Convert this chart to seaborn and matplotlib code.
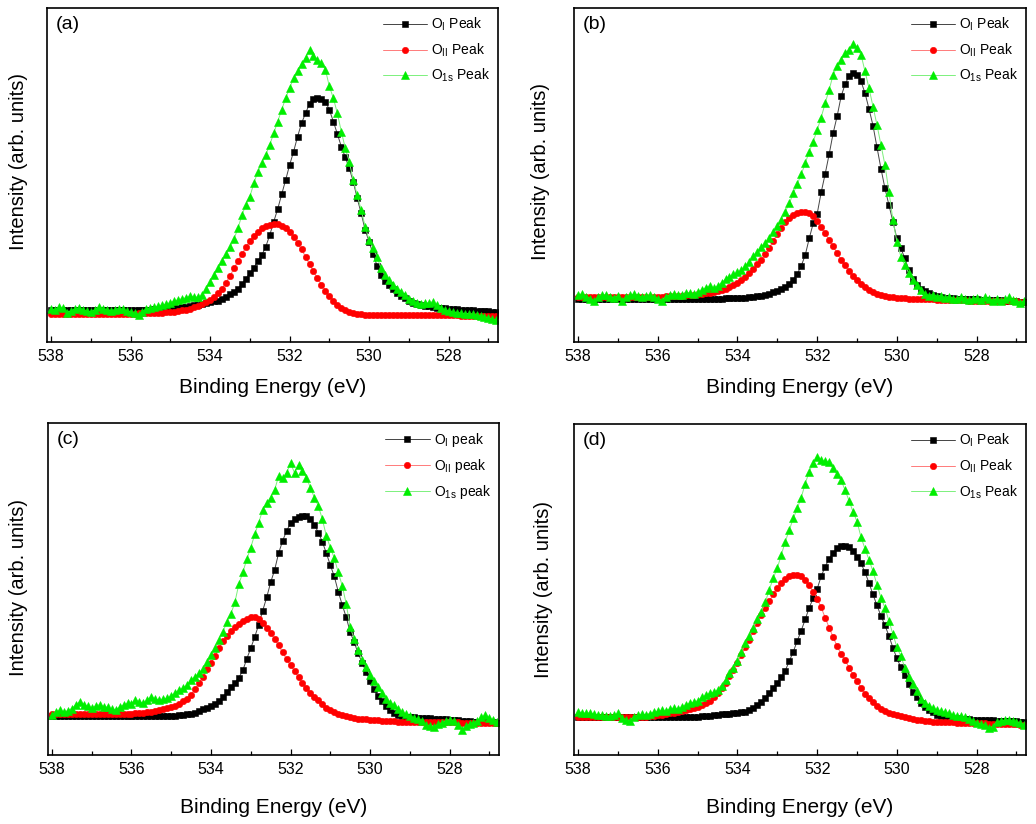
import matplotlib
matplotlib.use("Agg")
import matplotlib.pyplot as plt
from matplotlib.ticker import MultipleLocator
import seaborn as sns

# binding energy grid (eV), 0.1 eV steps as in the measured spectra
energy = [538.0, 537.9, 537.8, 537.7, 537.6, 537.5, 537.4, 537.3, 537.2, 537.1,
          537.0, 536.9, 536.8, 536.7, 536.6, 536.5, 536.4, 536.3, 536.2, 536.1,
          536.0, 535.9, 535.8, 535.7, 535.6, 535.5, 535.4, 535.3, 535.2, 535.1,
          535.0, 534.9, 534.8, 534.7, 534.6, 534.5, 534.4, 534.3, 534.2, 534.1,
          534.0, 533.9, 533.8, 533.7, 533.6, 533.5, 533.4, 533.3, 533.2, 533.1,
          533.0, 532.9, 532.8, 532.7, 532.6, 532.5, 532.4, 532.3, 532.2, 532.1,
          532.0, 531.9, 531.8, 531.7, 531.6, 531.5, 531.4, 531.3, 531.2, 531.1,
          531.0, 530.9, 530.8, 530.7, 530.6, 530.5, 530.4, 530.3, 530.2, 530.1,
          530.0, 529.9, 529.8, 529.7, 529.6, 529.5, 529.4, 529.3, 529.2, 529.1,
          529.0, 528.9, 528.8, 528.7, 528.6, 528.5, 528.4, 528.3, 528.2, 528.1,
          528.0, 527.9, 527.8, 527.7, 527.6, 527.5, 527.4, 527.3, 527.2, 527.1,
          527.0, 526.9, 526.8]

# panel (a)
a_oi = [9.7, 9.7, 9.7, 9.7, 9.7, 9.7, 9.7, 9.7, 9.7, 9.7,
        9.7, 9.7, 9.7, 9.7, 9.7, 9.7, 9.7, 9.7, 9.7, 9.7,
        9.7, 9.7, 9.7, 9.7, 9.7, 9.7, 9.8, 9.8, 9.9, 9.9,
        10.0, 10.1, 10.3, 10.4, 10.6, 10.8, 11.0, 11.2, 11.5, 11.7,
        12.0, 12.2, 12.4, 12.8, 13.6, 14.4, 15.1, 16.0, 17.3, 19.0,
        20.5, 22.2, 24.2, 26.0, 28.5, 32.0, 36.0, 39.8, 44.2, 48.5,
        53.0, 57.0, 61.5, 65.5, 68.5, 71.3, 72.6, 73.0, 72.8, 72.0,
        69.5, 66.0, 62.3, 58.5, 55.3, 52.0, 48.0, 43.0, 38.5, 33.5,
        30.0, 26.2, 22.8, 20.0, 18.3, 17.0, 15.8, 14.8, 13.9, 13.1,
        12.4, 11.8, 11.4, 11.1, 10.9, 10.7, 10.5, 10.3, 10.2, 10.1,
        10.0, 9.9, 9.8, 9.7, 9.7, 9.6, 9.5, 9.4, 9.3, 9.2,
        9.2, 9.1, 9.0]
a_oii = [8.5, 8.5, 8.5, 8.5, 8.5, 8.5, 8.5, 8.5, 8.5, 8.5,
         8.5, 8.5, 8.5, 8.5, 8.5, 8.5, 8.5, 8.5, 8.5, 8.5,
         8.5, 8.5, 8.6, 8.6, 8.6, 8.7, 8.7, 8.8, 8.8, 8.9,
         9.0, 9.1, 9.3, 9.5, 9.7, 10.0, 10.4, 10.9, 11.4, 12.0,
         12.7, 13.5, 14.6, 16.0, 17.8, 19.8, 22.0, 24.2, 26.3, 28.3,
         30.2, 31.8, 33.0, 34.0, 34.7, 35.1, 35.3, 35.2, 34.8, 34.1,
         33.0, 31.5, 29.7, 27.7, 25.5, 23.3, 21.1, 19.1, 17.2, 15.4,
         13.8, 12.4, 11.2, 10.3, 9.6, 9.1, 8.8, 8.5, 8.3, 8.2,
         8.1, 8.1, 8.0, 8.0, 8.0, 8.0, 8.0, 8.0, 8.0, 8.0,
         8.0, 8.0, 8.0, 8.0, 8.0, 8.0, 8.0, 8.0, 8.0, 8.0,
         8.0, 8.0, 8.0, 7.9, 7.9, 7.9, 7.9, 7.9, 7.9, 7.9,
         7.9, 7.9, 7.9]
a_o1s = [10.0, 9.5, 10.5, 10.2, 8.8, 9.3, 9.8, 10.2, 9.6, 9.2,
         9.0, 9.6, 10.5, 10.0, 9.7, 9.4, 9.6, 10.0, 9.8, 9.3,
         9.0, 8.6, 8.2, 9.0, 9.9, 10.2, 10.4, 10.8, 11.0, 11.4,
         11.8, 12.3, 12.6, 13.0, 13.2, 13.8, 13.5, 13.4, 14.0, 15.8,
         18.0, 20.0, 22.2, 24.3, 26.3, 28.3, 30.8, 34.0, 38.0, 41.0,
         43.5, 47.5, 51.0, 53.5, 56.0, 59.0, 62.5, 66.0, 69.5, 73.0,
         76.0, 79.0, 81.0, 83.2, 85.0, 87.4, 85.5, 84.3, 83.5, 81.5,
         76.5, 73.0, 68.5, 63.0, 58.0, 54.0, 48.5, 44.0, 39.5, 34.5,
         30.5, 28.0, 25.5, 22.0, 20.0, 18.5, 17.0, 16.0, 15.0, 14.0,
         13.0, 12.2, 11.8, 11.5, 11.6, 11.8, 12.0, 11.0, 10.2, 9.6,
         9.2, 9.0, 8.8, 8.6, 8.5, 8.4, 8.3, 8.0, 7.8, 7.5,
         7.2, 6.8, 6.5]

# panel (b)
b_oi = [13.0, 13.0, 13.0, 13.0, 13.0, 13.0, 13.0, 13.0, 13.0, 13.0,
        13.0, 13.0, 13.0, 13.0, 13.0, 13.0, 13.0, 13.0, 13.0, 13.0,
        13.0, 13.0, 13.0, 13.0, 13.0, 13.0, 13.0, 13.0, 13.0, 13.0,
        13.0, 13.0, 13.0, 13.0, 13.0, 13.0, 13.0, 13.1, 13.1, 13.1,
        13.2, 13.2, 13.3, 13.4, 13.5, 13.7, 13.9, 14.1, 14.4, 14.9,
        15.4, 16.0, 16.6, 17.4, 18.7, 20.4, 22.8, 26.0, 31.0, 35.5,
        38.4, 44.8, 50.3, 56.2, 62.5, 67.6, 73.5, 77.2, 79.6, 80.5,
        80.0, 78.0, 74.5, 69.8, 64.8, 58.3, 51.9, 46.0, 41.0, 36.0,
        31.0, 28.0, 25.0, 21.5, 19.0, 17.0, 16.0, 15.3, 14.6, 14.1,
        13.7, 13.5, 13.3, 13.2, 13.1, 13.0, 13.0, 12.9, 12.9, 12.8,
        12.8, 12.7, 12.7, 12.6, 12.6, 12.5, 12.5, 12.4, 12.4, 12.3,
        12.2, 12.1, 12.0]
b_oii = [13.6, 13.6, 13.6, 13.6, 13.6, 13.6, 13.6, 13.6, 13.6, 13.6,
         13.6, 13.6, 13.6, 13.6, 13.6, 13.6, 13.6, 13.6, 13.6, 13.6,
         13.6, 13.6, 13.7, 13.7, 13.8, 13.9, 13.9, 14.0, 14.1, 14.2,
         14.3, 14.4, 14.6, 14.8, 15.0, 15.3, 15.6, 16.0, 16.5, 17.1,
         17.7, 18.5, 19.5, 20.6, 21.9, 23.2, 24.6, 26.3, 28.2, 30.3,
         32.3, 34.2, 35.8, 37.0, 38.0, 38.7, 39.0, 38.9, 38.5, 37.6,
         36.2, 34.3, 32.5, 30.6, 28.6, 26.6, 24.6, 22.9, 21.3, 19.9,
         18.6, 17.5, 16.5, 15.7, 15.0, 14.5, 14.1, 13.8, 13.6, 13.4,
         13.3, 13.2, 13.1, 13.0, 13.0, 12.9, 12.9, 12.8, 12.8, 12.8,
         12.7, 12.7, 12.7, 12.6, 12.6, 12.5, 12.5, 12.5, 12.4, 12.4,
         12.4, 12.4, 12.3, 12.3, 12.3, 12.3, 12.2, 12.2, 12.2, 12.2,
         12.2, 12.1, 12.1]
b_o1s = [14.0, 14.5, 13.5, 13.0, 12.2, 13.4, 14.2, 14.0, 13.6, 13.2,
         13.8, 12.2, 13.5, 14.0, 14.3, 13.8, 13.4, 13.9, 14.2, 13.5,
         13.0, 12.4, 13.6, 14.0, 14.5, 14.2, 14.0, 14.6, 14.8, 14.5,
         15.0, 15.6, 16.2, 16.8, 16.2, 16.8, 17.8, 18.8, 19.5, 20.2,
         20.8, 21.5, 22.6, 24.0, 25.8, 27.0, 28.3, 29.6, 31.0, 33.0,
         34.8, 36.5, 39.0, 41.5, 44.5, 47.3, 50.2, 53.5, 57.0, 60.0,
         63.5, 67.2, 71.5, 75.5, 80.0, 82.5, 84.5, 86.5, 87.5, 89.3,
         88.0, 86.0, 81.0, 76.0, 70.5, 65.0, 59.0, 53.0, 45.0, 36.5,
         30.0, 25.5, 23.0, 20.5, 18.5, 17.0, 15.6, 14.5, 13.8, 14.2,
         13.6, 13.9, 13.2, 13.6, 13.0, 12.8, 13.4, 13.0, 12.5, 12.9,
         13.2, 12.6, 13.4, 12.8, 12.4, 13.0, 12.2, 12.8, 13.5, 12.6,
         12.2, 11.8, 12.3]

# panel (c)
c_oi = [11.8, 11.8, 11.8, 11.8, 11.8, 11.8, 11.8, 11.8, 11.8, 11.8,
        11.8, 11.8, 11.8, 11.8, 11.8, 11.8, 11.8, 11.8, 11.8, 11.8,
        11.8, 11.8, 11.8, 11.8, 11.8, 11.8, 11.8, 11.8, 11.8, 11.8,
        11.8, 11.9, 12.0, 12.1, 12.3, 12.5, 12.8, 13.3, 13.8, 14.3,
        14.9, 15.5, 16.3, 17.4, 18.9, 20.5, 21.8, 23.3, 25.5, 29.0,
        32.2, 35.6, 39.3, 43.5, 47.5, 52.0, 55.8, 60.8, 64.5, 67.5,
        69.8, 71.2, 71.8, 72.1, 71.9, 71.2, 69.3, 67.0, 64.2, 60.8,
        57.2, 53.8, 49.2, 45.2, 41.5, 37.0, 34.0, 30.6, 27.8, 25.0,
        22.4, 19.9, 17.9, 16.2, 14.8, 13.6, 12.8, 12.2, 11.8, 11.6,
        11.5, 11.4, 11.3, 11.2, 11.2, 11.1, 11.0, 11.0, 10.9, 10.8,
        10.6, 10.5, 10.5, 10.4, 10.3, 10.2, 10.1, 10.0, 10.0, 9.9,
        9.8, 9.8, 9.7]
c_oii = [12.5, 12.5, 12.5, 12.5, 12.5, 12.5, 12.5, 12.5, 12.5, 12.5,
         12.5, 12.5, 12.5, 12.5, 12.5, 12.5, 12.5, 12.5, 12.5, 12.5,
         12.5, 12.6, 12.7, 12.8, 12.9, 13.1, 13.3, 13.5, 13.8, 14.1,
         14.4, 14.9, 15.5, 16.2, 17.0, 18.2, 19.8, 21.6, 23.6, 25.8,
         27.8, 29.7, 32.3, 34.2, 35.8, 37.3, 38.6, 39.6, 40.4, 41.0,
         41.5, 41.6, 41.0, 39.8, 38.3, 36.7, 35.0, 33.0, 30.9, 28.9,
         27.0, 25.4, 23.4, 21.7, 20.3, 18.8, 17.6, 16.5, 15.3, 14.3,
         13.5, 12.9, 12.5, 12.1, 11.8, 11.5, 11.2, 11.0, 10.9, 10.8,
         10.7, 10.6, 10.5, 10.4, 10.3, 10.2, 10.2, 10.1, 10.1, 10.0,
         10.0, 10.0, 10.0, 9.9, 9.9, 9.9, 9.9, 9.9, 9.8, 9.8,
         9.8, 9.8, 9.8, 9.7, 9.7, 9.7, 9.7, 9.7, 9.6, 9.6,
         9.6, 9.6, 9.6]
c_o1s = [12.0, 13.1, 13.6, 13.0, 13.4, 14.0, 15.2, 16.1, 15.2, 14.8,
         14.2, 14.8, 15.2, 14.6, 14.4, 13.9, 13.6, 14.4, 15.1, 15.6,
         15.4, 16.6, 16.0, 15.6, 16.6, 17.6, 16.8, 16.6, 16.9, 17.1,
         17.8, 18.6, 19.6, 20.2, 21.0, 22.6, 23.6, 24.6, 26.0, 28.0,
         30.0, 32.2, 34.5, 37.2, 40.0, 42.5, 46.0, 51.5, 55.0, 59.0,
         62.5, 66.5, 70.0, 73.9, 76.0, 77.5, 79.9, 84.0, 83.5, 85.0,
         87.9, 85.0, 87.4, 85.5, 83.5, 80.5, 77.5, 75.0, 71.0, 66.0,
         62.5, 59.3, 55.0, 51.0, 45.5, 38.5, 35.0, 31.5, 28.5, 26.6,
         24.0, 22.3, 20.6, 18.6, 17.0, 15.8, 15.0, 14.0, 12.9, 12.4,
         11.8, 11.1, 10.8, 10.2, 9.1, 8.6, 8.5, 9.2, 9.7, 10.3,
         10.6, 10.2, 9.0, 7.6, 8.6, 9.2, 9.6, 10.2, 11.4, 12.0,
         11.2, 10.5, 10.1]

# panel (d)
d_oi = [11.6, 11.6, 11.6, 11.6, 11.6, 11.6, 11.6, 11.6, 11.6, 11.6,
        11.6, 11.6, 11.6, 11.6, 11.6, 11.6, 11.6, 11.6, 11.6, 11.6,
        11.6, 11.6, 11.6, 11.6, 11.6, 11.6, 11.6, 11.6, 11.6, 11.6,
        11.6, 11.7, 11.8, 11.9, 12.0, 12.1, 12.3, 12.4, 12.5, 12.6,
        12.7, 12.9, 13.1, 13.6, 14.3, 15.2, 16.1, 17.3, 18.7, 20.2,
        21.9, 23.5, 25.5, 28.4, 31.2, 34.5, 37.6, 41.0, 44.5, 47.4,
        50.2, 54.0, 56.9, 59.3, 61.0, 62.4, 63.1, 63.2, 62.8, 61.7,
        59.9, 57.9, 55.2, 52.0, 48.5, 45.2, 42.0, 39.2, 36.0, 32.4,
        29.2, 26.5, 24.2, 21.5, 19.0, 17.4, 15.8, 14.6, 13.6, 12.9,
        12.1, 11.9, 11.6, 11.5, 11.3, 11.2, 11.0, 10.9, 10.8, 10.7,
        10.6, 10.6, 10.5, 10.5, 10.5, 10.4, 10.4, 10.3, 10.3, 10.2,
        10.2, 10.1, 10.1]
d_oii = [11.6, 11.6, 11.6, 11.6, 11.6, 11.6, 11.6, 11.6, 11.6, 11.6,
         11.6, 11.6, 11.6, 11.6, 11.6, 11.6, 11.6, 11.6, 11.7, 11.8,
         12.0, 12.2, 12.4, 12.6, 12.8, 13.0, 13.3, 13.6, 13.9, 14.2,
         14.6, 15.1, 15.7, 16.4, 17.5, 18.8, 20.2, 21.9, 23.8, 25.8,
         27.9, 30.3, 32.6, 34.9, 37.4, 39.9, 42.4, 44.5, 46.5, 48.6,
         50.5, 52.0, 53.2, 54.0, 54.4, 54.5, 54.0, 53.0, 51.3, 49.3,
         47.2, 44.6, 41.5, 38.5, 35.6, 32.9, 30.5, 28.7, 26.4, 24.3,
         22.3, 20.3, 18.5, 17.2, 16.0, 14.8, 13.9, 13.2, 12.7, 12.3,
         12.0, 11.7, 11.5, 11.2, 10.9, 10.7, 10.5, 10.4, 10.2, 10.1,
         10.0, 10.0, 9.9, 9.9, 9.9, 9.8, 9.8, 9.8, 9.7, 9.7,
         9.6, 9.6, 9.6, 9.5, 9.5, 9.5, 9.4, 9.4, 9.4, 9.3,
         9.3, 9.2, 9.1]
d_o1s = [13.0, 12.8, 12.6, 12.8, 12.3, 12.1, 12.0, 11.8, 11.7, 12.2,
         12.6, 11.2, 10.6, 10.4, 11.6, 12.1, 12.3, 12.1, 12.5, 13.0,
         13.2, 13.6, 13.4, 13.9, 14.2, 14.0, 14.6, 15.2, 15.6, 15.9,
         16.4, 17.4, 18.0, 18.6, 18.9, 19.5, 21.0, 22.7, 24.8, 26.2,
         28.5, 31.0, 33.7, 36.0, 38.5, 41.0, 43.3, 46.3, 50.0, 53.5,
         56.5, 60.5, 64.5, 68.0, 71.5, 74.5, 77.8, 82.0, 85.6, 88.3,
         90.1, 89.0, 88.7, 88.5, 86.6, 84.8, 83.0, 80.0, 76.8, 73.5,
         70.5, 65.8, 62.3, 59.0, 55.5, 51.5, 47.5, 44.5, 40.5, 36.5,
         32.6, 29.8, 26.4, 23.5, 21.5, 19.4, 16.8, 15.8, 14.9, 14.2,
         13.6, 13.3, 13.1, 12.6, 12.1, 11.9, 11.7, 11.4, 10.8, 10.2,
         9.8, 9.4, 9.0, 8.3, 8.5, 10.0, 10.3, 10.5, 10.6, 10.2,
         10.0, 9.6, 9.2]

panel_tags = ["(a)", "(b)", "(c)", "(d)"]
peak_word = ["Peak", "Peak", "peak", "Peak"]
spectra = [(a_oi, a_oii, a_o1s), (b_oi, b_oii, b_o1s),
           (c_oi, c_oii, c_o1s), (d_oi, d_oii, d_o1s)]

sns.set_style("white", {"axes.edgecolor": "black", "text.color": "black",
                        "axes.labelcolor": "black", "xtick.color": "black"})
plt.rcParams["font.family"] = ["Liberation Sans", "DejaVu Sans"]
plt.rcParams["mathtext.default"] = "regular"

fig = plt.figure(figsize=(10.36, 8.24), dpi=100)
boxes = [[0.0454, 0.585, 0.4353, 0.4053],
         [0.5541, 0.585, 0.4363, 0.4053],
         [0.0463, 0.0837, 0.4353, 0.4029],
         [0.5541, 0.0837, 0.4363, 0.4017]]
# y-label spot (axes fraction) and x-label pad for each panel
ylab_xy = [(-0.042, 0.539), (-0.053, 0.509), (-0.044, 0.506), (-0.046, 0.50)]
xlab_pad = [10, 10, 15, 15]

# line colour, marker, marker size, marker colour, label start
styles = [("#444444", "s", 4.0, "black", "O$_{I}$ "),
          ("#ff7a7a", "o", 4.6, "#ff0000", "O$_{II}$ "),
          ("#7cf07c", "^", 5.2, "#00ee00", "O$_{1s}$ ")]

for k in range(4):
    ax = fig.add_axes(boxes[k])
    for vals, (lc, mk, ms, mc, lab) in zip(spectra[k], styles):
        sns.lineplot(x=energy, y=vals, ax=ax, color=lc, lw=0.7, marker=mk,
                     markersize=ms, markerfacecolor=mc, markeredgecolor=mc,
                     markeredgewidth=0.4, sort=False,
                     label=lab + peak_word[k])
    ax.set_xlim(538.1, 526.76)
    ax.set_ylim(0, 100)
    ax.set_yticks([])
    ax.xaxis.set_major_locator(MultipleLocator(2))
    ax.xaxis.set_minor_locator(MultipleLocator(1))
    ax.tick_params(axis="x", which="both", direction="in", bottom=True,
                   top=False, labelsize=11.5, pad=5)
    ax.tick_params(axis="x", which="major", length=4.5, width=0.9)
    ax.tick_params(axis="x", which="minor", length=3, width=0.9)
    for sp in ax.spines.values():
        sp.set_linewidth(1.2)
        sp.set_color("black")
    ax.set_xlabel("Binding Energy (eV)", fontsize=15, labelpad=xlab_pad[k])
    ax.set_ylabel("Intensity (arb. units)", fontsize=14.5)
    ax.yaxis.set_label_coords(*ylab_xy[k])
    ax.text(0.02, 0.975, panel_tags[k], transform=ax.transAxes,
            fontsize=14, va="top", ha="left")
    ax.legend(loc="upper right", frameon=False, fontsize=10,
              handlelength=3.2, handletextpad=0.3, labelspacing=0.6,
              borderaxespad=0.1, borderpad=0.45)

fig.savefig("out.png", dpi=100, facecolor="white")
